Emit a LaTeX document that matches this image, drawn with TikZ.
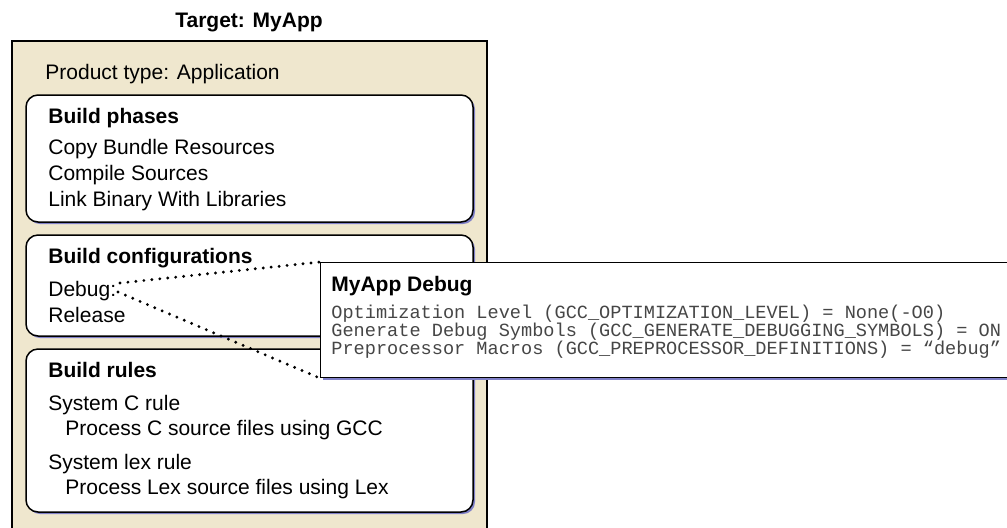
\documentclass[tikz,border=0pt]{standalone}
\usepackage{fontspec}
\setmainfont{Liberation Sans}
\setmonofont{Liberation Mono}
\usetikzlibrary{shadows}
\definecolor{tanbg}{RGB}{239,231,206}
\definecolor{shadowblue}{RGB}{128,128,200}
\definecolor{codegray}{RGB}{70,70,70}

\begin{document}
\begin{tikzpicture}[x=0.5pt,y=-0.5pt]
    \tikzset{
    txt/.style={anchor=base west,inner sep=0pt,font=\fontsize{10.5}{13}\selectfont},
    head/.style={txt,font=\fontsize{10.5}{13}\selectfont\bfseries},
    code/.style={anchor=base west,inner sep=0pt,text=codegray,font=\fontsize{9.3}{9}\selectfont\ttfamily},
    panel/.style={draw=black,line width=0.75pt,fill=white,rounded corners=6pt,
        drop shadow={shadow xshift=1pt,shadow yshift=-1pt,fill=shadowblue,opacity=1}},
    popup/.style={draw=black,line width=0.6pt,fill=white,
        drop shadow={shadow xshift=1pt,shadow yshift=-1pt,fill=shadowblue,opacity=1}},
    link/.style={line width=1.6pt,line cap=round,dash pattern=on 0pt off 4pt},
    }
    \useasboundingbox (0,0) rectangle (1007,527);
    \clip (0,0) rectangle (1007,527);

    % target frame
    \node[inner sep=0pt,font=\fontsize{10.5}{13}\selectfont\bfseries,anchor=base] (title) at (249,27) {Target: MyApp};
    \fill[tanbg] (12,41) rectangle (487,540);
    \draw[line width=1pt] (12,540) -- (12,41) -- (487,41) -- (487,540);
    \node[txt] (ptype) at (45,79) {Product type: Application};

    % build phases
    \draw[panel] (26,95) rectangle (473,222);
    \node[head] (phases) at (48,123) {Build phases};
    \node[txt] (ph1) at (48,154) {Copy Bundle Resources};
    \node[txt] (ph2) at (48,180) {Compile Sources};
    \node[txt] (ph3) at (48,206) {Link Binary With Libraries};

    % build configurations
    \draw[panel] (26,235) rectangle (473,336);
    \node[head] (configs) at (48,263) {Build configurations};
    \node[txt] (dbg) at (48,296) {Debug:};
    \node[txt] (rel) at (48,322) {Release};

    % build rules
    \draw[panel] (26,349) rectangle (473,512);
    \node[head] (rules) at (48,377) {Build rules};
    \node[txt] (r1) at (48,410) {System C rule};
    \node[txt] (r1a) at (65,435) {Process C source files using GCC};
    \node[txt] (r2) at (48,469) {System lex rule};
    \node[txt] (r2a) at (65,494) {Process Lex source files using Lex};

    % debug settings
    \coordinate (dbgtop) at (120,283);
    \coordinate (dbgbot) at (118,292);
    \node[popup,anchor=north west,minimum width=350pt,minimum height=57.5pt,inner sep=0pt] (settings) at (320,262) {};
    \draw[link] (dbgtop) -- (settings.north west);
    \draw[link] (dbgbot) -- (settings.south west);
    \node[head] (sname) at (331,291) {MyApp Debug};
    \node[code] (s1) at (331,318) {Optimization Level (GCC\_OPTIMIZATION\_LEVEL) = None(-O0)};
    \node[code] (s2) at (331,336) {Generate Debug Symbols (GCC\_GENERATE\_DEBUGGING\_SYMBOLS) = ON};
    \node[code] (s3) at (331,354) {Preprocessor Macros (GCC\_PREPROCESSOR\_DEFINITIONS) = “debug”};

\end{tikzpicture}
\end{document}
